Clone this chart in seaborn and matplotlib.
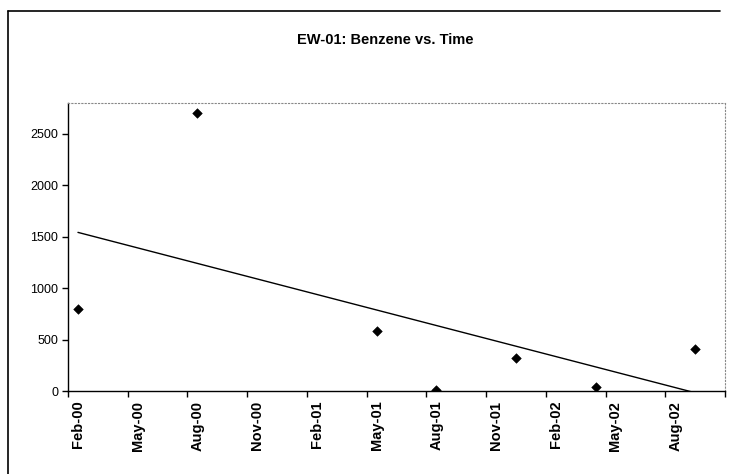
import pandas as pd
import numpy as np
import matplotlib
matplotlib.use("Agg")
import matplotlib.pyplot as plt
import seaborn as sns

# Benzene samples (month of sample, concentration)
sample_months = ["2000-02", "2000-08", "2001-05", "2001-08", "2001-12", "2002-04", "2002-09"]
benzene = [800, 2700, 580, 10, 320, 40, 410]

axis_start = "2000-02"
axis_end = "2002-11"
y_ticks = [0, 500, 1000, 1500, 2000, 2500]
y_max = 2800

sns.set_style("white")
plt.rcParams['font.family'] = ['Liberation Sans', 'DejaVu Sans']
plt.rcParams['text.color'] = 'black'
plt.rcParams['xtick.color'] = 'black'
plt.rcParams['ytick.color'] = 'black'

# month slots on a date axis, point sits mid-month like Excel does
start = pd.Period(axis_start, freq="M")
end = pd.Period(axis_end, freq="M")
n_months = (end - start).n
data = pd.DataFrame({
    "month": [(pd.Period(m, freq="M") - start).n + 0.5 for m in sample_months],
    "benzene": benzene,
})

fig = plt.figure(figsize=(7.54, 4.74), dpi=100)
ax = fig.add_axes([68 / 754, 1 - 391 / 474, (725 - 68) / 754, (391 - 103) / 474])

# linear trendline over the sample range
sns.regplot(data=data, x="month", y="benzene", ax=ax, scatter=False, ci=None,
            truncate=True, color="black", line_kws={"linewidth": 1.0})
sns.scatterplot(data=data, x="month", y="benzene", ax=ax, marker="D", s=24,
                color="black", edgecolor="black", zorder=3)

ax.set_xlim(0, n_months)
ax.set_ylim(0, y_max)
ax.set_xlabel("")
ax.set_ylabel("")

# tick marks at quarter boundaries, labels centred on the first month of each quarter
ax.set_xticks(np.arange(0, n_months + 1, 3))
ax.set_xticklabels([])
label_pos = np.arange(0.5, n_months, 3)
label_txt = [(start + int(p)).strftime("%b-%y") for p in label_pos]
ax.set_xticks(label_pos, minor=True)
ax.set_xticklabels(label_txt, minor=True, rotation=90, fontsize=10.5,
                   fontweight="bold")
ax.tick_params(axis="x", which="major", direction="out", length=4, width=1,
               color="black", bottom=True)
ax.tick_params(axis="x", which="minor", length=0, pad=7)

ax.set_yticks(y_ticks)
ax.set_yticklabels([str(v) for v in y_ticks], fontsize=9)
ax.tick_params(axis="y", direction="out", length=4, width=1, color="black",
               left=True, pad=3)

for side in ["left", "bottom"]:
    ax.spines[side].set_color("black")
    ax.spines[side].set_linewidth(1.0)
for side in ["top", "right"]:
    ax.spines[side].set_color("#888888")
    ax.spines[side].set_linewidth(0.8)
    ax.spines[side].set_linestyle((0, (1, 2)))

fig.text(385 / 754, 1 - 40 / 474, "EW-01: Benzene vs. Time", ha="center",
         va="center", fontsize=10.5, fontweight="bold")

# chart area frame (left and top edges visible in the scan)
fig.add_artist(plt.Line2D([8 / 754, 8 / 754], [0, 1 - 11 / 474], color="black",
                          linewidth=1.2, transform=fig.transFigure))
fig.add_artist(plt.Line2D([8 / 754, 720 / 754], [1 - 11 / 474, 1 - 11 / 474],
                          color="black", linewidth=1.2, transform=fig.transFigure))

fig.savefig("out.png", dpi=100)
